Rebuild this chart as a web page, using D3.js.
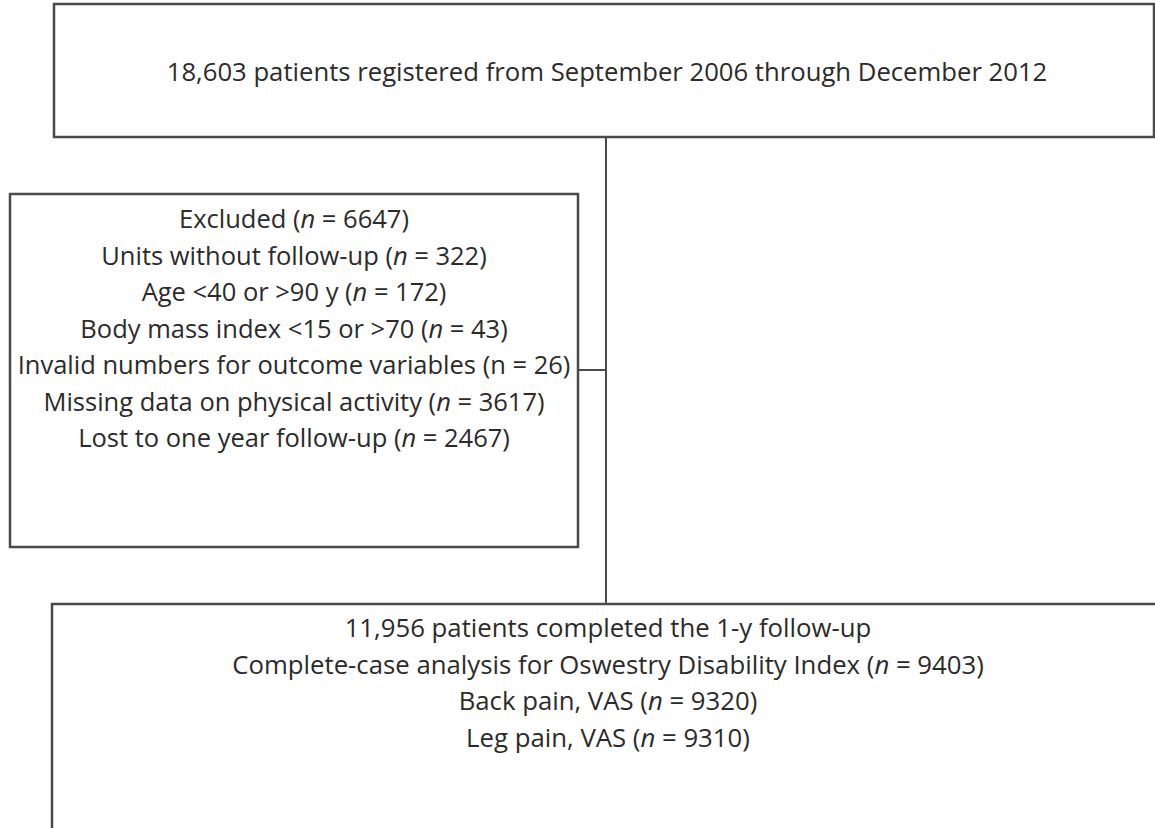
<!DOCTYPE html>
<html>
<head>
<meta charset="utf-8">
<script src="https://cdn.jsdelivr.net/npm/d3@7"></script>
<style>
  body { margin: 0; background: #fff; }
  svg text { font-family: "Open Sans", Lato, sans-serif; fill: #2b2b2b; }
</style>
</head>
<body>
<div id="viz"></div>
<script>
(function () {
  'use strict';

  // text of each box, one entry per line; {t, i} parts where i = italic
  var registered = [
    [{t: '18,603 patients registered from September 2006 through December 2012'}]
  ];
  var excluded = [
    [{t: 'Excluded ('}, {t: 'n', i: true}, {t: ' = 6647)'}],
    [{t: 'Units without follow-up ('}, {t: 'n', i: true}, {t: ' = 322)'}],
    [{t: 'Age <40 or >90 y ('}, {t: 'n', i: true}, {t: ' = 172)'}],
    [{t: 'Body mass index <15 or >70 ('}, {t: 'n', i: true}, {t: ' = 43)'}],
    [{t: 'Invalid numbers for outcome variables (n = 26)'}],
    [{t: 'Missing data on physical activity ('}, {t: 'n', i: true}, {t: ' = 3617)'}],
    [{t: 'Lost to one year follow-up ('}, {t: 'n', i: true}, {t: ' = 2467)'}]
  ];
  var completed = [
    [{t: '11,956 patients completed the 1-y follow-up'}],
    [{t: 'Complete-case analysis for Oswestry Disability Index ('}, {t: 'n', i: true}, {t: ' = 9403)'}],
    [{t: 'Back pain, VAS ('}, {t: 'n', i: true}, {t: ' = 9320)'}],
    [{t: 'Leg pain, VAS ('}, {t: 'n', i: true}, {t: ' = 9310)'}]
  ];

  var width = 1155, height = 828;
  var stroke = '#4a4a4a';

  var svg = d3.select('#viz')
    .append('svg')
    .attr('width', width)
    .attr('height', height);

  // fit: widest line of each box should span this many px
  var boxes = [
    {x: 54, y: 4, w: 1100, h: 133, cx: 607, lines: registered, firstY: 81, fit: 881},
    {x: 10, y: 194, w: 568, h: 353, cx: 294, lines: excluded, firstY: 228, fit: 553},
    {x: 52, y: 604, w: 1120, h: 240, cx: 608, lines: completed, firstY: 637, fit: 752}
  ];
  var step = 36.5;

  // connectors
  var midX = 606;
  svg.append('line')
    .attr('x1', midX).attr('x2', midX)
    .attr('y1', 137).attr('y2', 604)
    .style('stroke', stroke).style('stroke-width', 2);
  svg.append('line')
    .attr('x1', 578).attr('x2', midX)
    .attr('y1', 370).attr('y2', 370)
    .style('stroke', stroke).style('stroke-width', 2);

  var g = svg.selectAll('g.box')
    .data(boxes)
    .enter()
    .append('g')
    .attr('class', 'box');

  g.append('rect')
    .attr('x', function (d) { return d.x; })
    .attr('y', function (d) { return d.y; })
    .attr('width', function (d) { return d.w; })
    .attr('height', function (d) { return d.h; })
    .style('fill', '#fff')
    .style('stroke', stroke)
    .style('stroke-width', 2.5);

  g.each(function (b) {
    var texts = d3.select(this).selectAll('text')
      .data(b.lines)
      .enter()
      .append('text')
      .attr('x', b.cx)
      .attr('y', function (d, i) { return b.firstY + i * step; })
      .attr('text-anchor', 'middle')
      .style('font-size', '20px');

    texts.selectAll('tspan')
      .data(function (d) { return d; })
      .enter()
      .append('tspan')
      .style('font-style', function (d) { return d.i ? 'italic' : 'normal'; })
      .text(function (d) { return d.t; });

    var widest = d3.max(texts.nodes(), function (n) { return n.getComputedTextLength(); });
    texts.style('font-size', (20 * b.fit / widest) + 'px');
  });
}());
</script>
</body>
</html>
